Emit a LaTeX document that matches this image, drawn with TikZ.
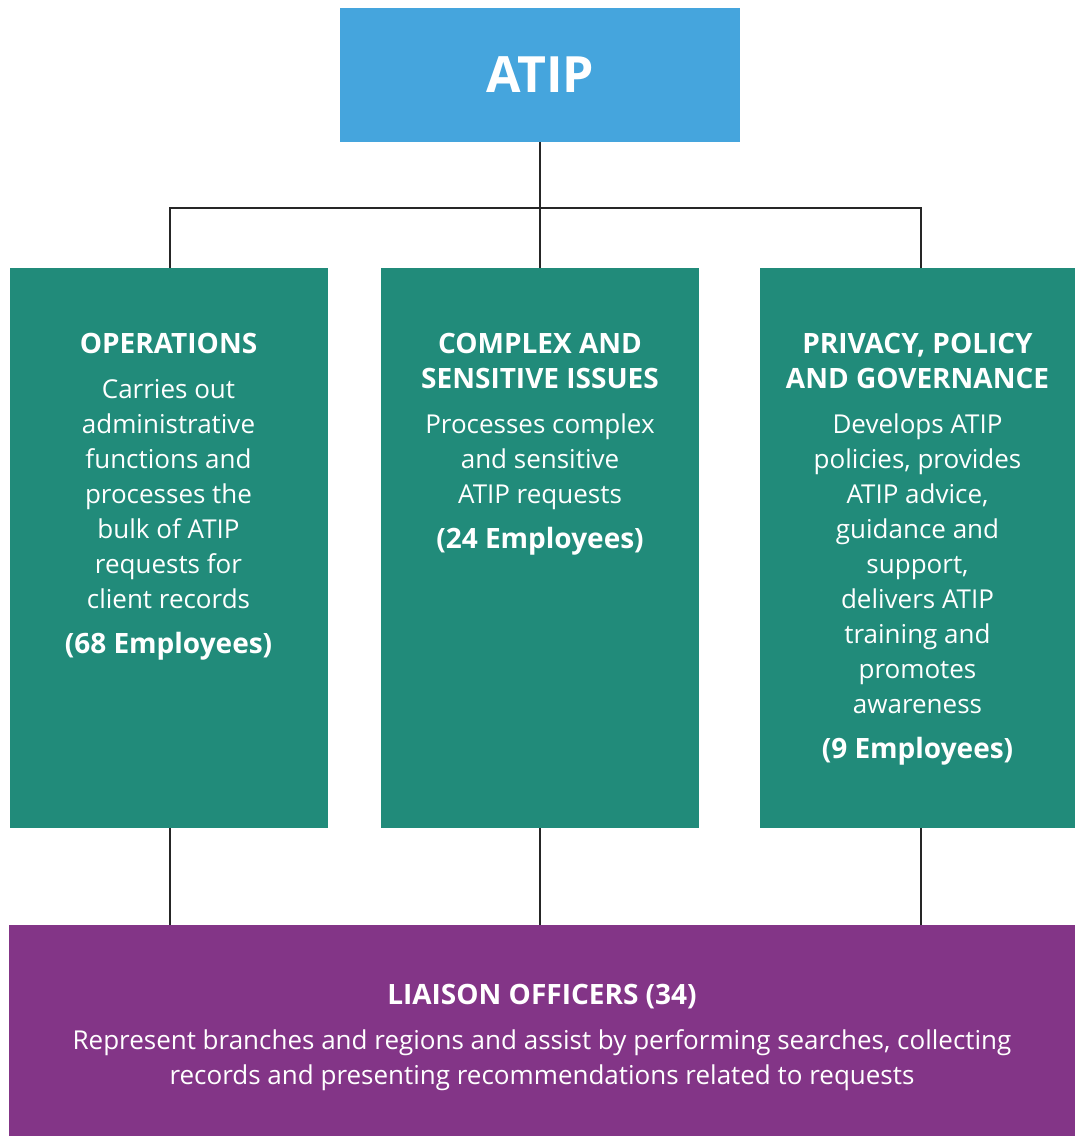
\documentclass[tikz,border=0pt]{standalone}
\usepackage{fontspec}
\setmainfont{Open Sans}
\usetikzlibrary{positioning}

\definecolor{atipblue}{HTML}{45A5DD}
\definecolor{unitgreen}{HTML}{218B7A}
\definecolor{liaisonpurple}{HTML}{833587}

\tikzset{
  unitbox/.style={fill=unitgreen, minimum width=318pt, minimum height=560pt, inner sep=0pt},
  unittext/.style={text=white, align=center, inner sep=0pt, font=\fontsize{26}{35}\selectfont},
  link/.style={draw=black!85, line width=2pt},
}
\newcommand{\unithead}[1]{{\fontsize{28}{35}\selectfont\bfseries #1}}

\begin{document}
\begin{tikzpicture}[x=1pt,y=-1pt]
  \useasboundingbox (0,0) rectangle (1076,1136);

%% boxes
\node[fill=atipblue, minimum width=400pt, minimum height=134pt, inner sep=0pt,
      text=white, font=\fontsize{50}{60}\selectfont\bfseries] (atip) at (540,75) {ATIP};

\node[unitbox] (ops) at (168.5,548) {};
\node[unitbox] (cpx) at (540,548) {};
\node[unitbox, minimum width=315pt] (ppg) at (917.5,548) {};

\node[fill=liaisonpurple, minimum width=1066pt, minimum height=212pt, inner sep=0pt] (liaison) at (542,1031) {};

%% texts
\node[unittext, below=65pt of ops.north] (opstext) {\unithead{OPERATIONS}\\[10pt]
  Carries out\\ administrative\\ functions and\\ processes the\\ bulk of ATIP\\ requests for\\ client records\\[10pt]
  \unithead{(68 Employees)}};

\node[unittext, below=65pt of cpx.north] (cpxtext) {\unithead{COMPLEX AND}\\ \unithead{SENSITIVE ISSUES}\\[10pt]
  Processes complex\\ and sensitive\\ ATIP requests\\[10pt]
  \unithead{(24 Employees)}};

\node[unittext, below=65pt of ppg.north] (ppgtext) {\unithead{PRIVACY, POLICY}\\ \unithead{AND GOVERNANCE}\\[10pt]
  Develops ATIP\\ policies, provides\\ ATIP advice,\\ guidance and\\ support,\\ delivers ATIP\\ training and\\ promotes\\ awareness\\[10pt]
  \unithead{(9 Employees)}};

\node[unittext, below=59pt of liaison.north] (liaisontext) {\unithead{LIAISON OFFICERS (34)}\\[10pt]
  Represent branches and regions and assist by performing searches, collecting\\
  records and presenting recommendations related to requests};

%%%%%%%%%%%%%%%%%%%%%%%%
%% connectors
\coordinate (bus) at (540,208);
\draw[link] (atip.south) -- (bus);
\draw[link] ([xshift=1.5pt]ops.north) -- ([xshift=1.5pt]ops.north |- bus) -- ([xshift=3.5pt]ppg.north |- bus) -- ([xshift=3.5pt]ppg.north);
\draw[link] (bus) -- (cpx.north);
\draw[link] ([xshift=1.5pt]ops.south) -- ([xshift=1.5pt]ops.south |- liaison.north);
\draw[link] (cpx.south) -- (cpx.south |- liaison.north);
\draw[link] ([xshift=3.5pt]ppg.south) -- ([xshift=3.5pt]ppg.south |- liaison.north);
\end{tikzpicture}
\end{document}
